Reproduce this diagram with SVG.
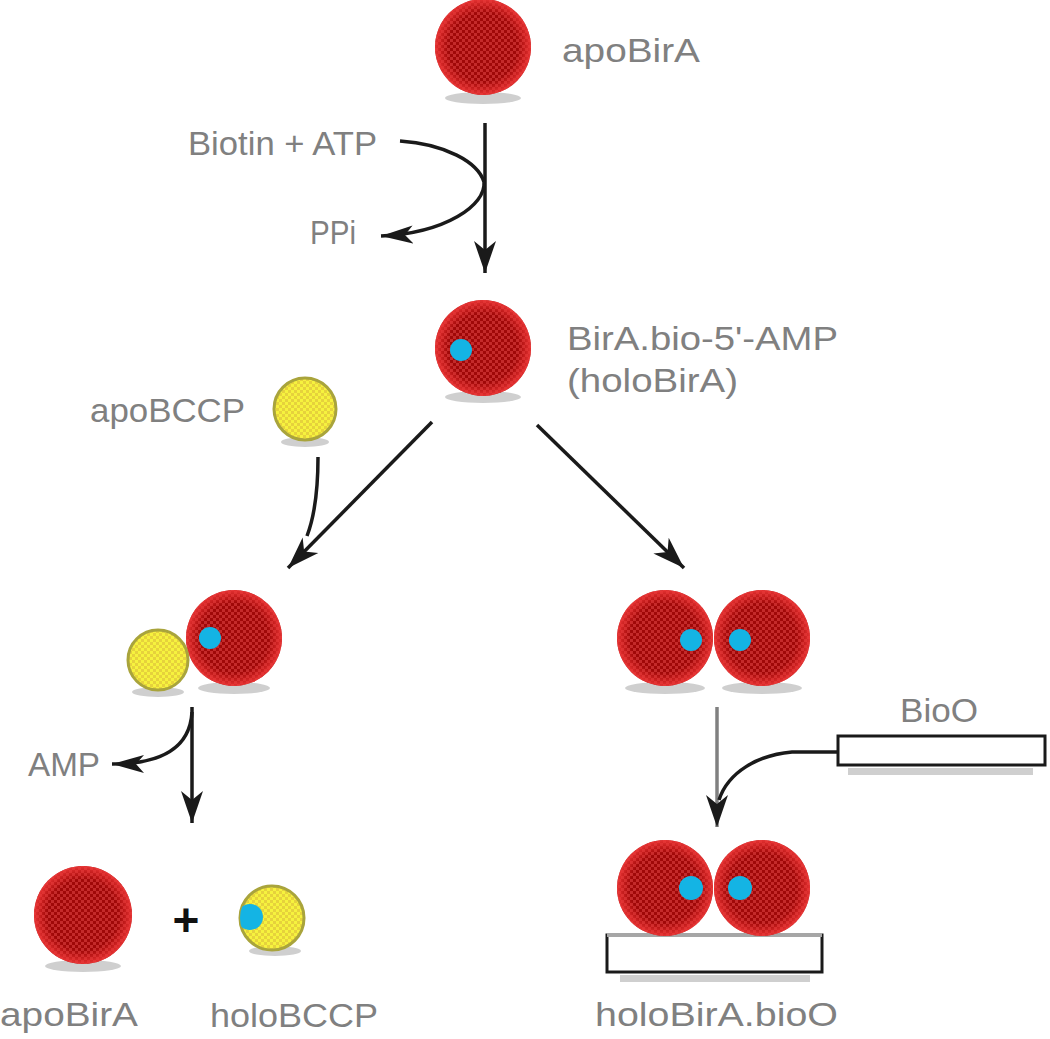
<svg xmlns="http://www.w3.org/2000/svg" width="1050" height="1039" viewBox="0 0 1050 1039">
<style>
.lbl{font-family:"Liberation Sans",Arial,sans-serif;font-size:34px;fill:#808080}
.red{fill:url(#redTex)}
.rim{fill:url(#rimGrad)}
.yel{fill:url(#yelTex);stroke:#a9a43c;stroke-width:3}
.blue{fill:#14b4e4}
.shadow{fill:#cfcfcf}
.conn{fill:none;stroke:#1a1a1a;stroke-width:3.5}
.bar{fill:#fff;stroke:#1a1a1a;stroke-width:3}
</style>
<defs>
<pattern id="redTex" width="6" height="6" patternUnits="userSpaceOnUse">
<rect width="6" height="6" fill="#c42a2a"/>
<rect width="3" height="3" fill="#a00808"/>
<rect x="3" y="3" width="3" height="3" fill="#a00808"/>
</pattern>
<radialGradient id="rimGrad" cx="0.5" cy="0.5" r="0.5">
<stop offset="0.72" stop-color="#ee3030" stop-opacity="0"/>
<stop offset="1" stop-color="#f03a3a" stop-opacity="0.85"/>
</radialGradient>
<pattern id="yelTex" width="6" height="6" patternUnits="userSpaceOnUse">
<rect width="6" height="6" fill="#f6f23e"/>
<rect width="3" height="3" fill="#e6d23c"/>
<rect x="3" y="3" width="3" height="3" fill="#e6d23c"/>
</pattern>
<marker id="arr" markerUnits="userSpaceOnUse" markerWidth="34" markerHeight="28" refX="32" refY="14" orient="auto">
<path d="M0,3 L32,14 L0,25 L9,14 z" fill="#1a1a1a"/>
</marker>
<marker id="arrS" markerUnits="userSpaceOnUse" markerWidth="34" markerHeight="22" refX="32" refY="11" orient="auto">
<path d="M0,2 L32,11 L0,20 L8,11 z" fill="#1a1a1a"/>
</marker>
<clipPath id="hbClip"><circle cx="272" cy="918" r="32"/></clipPath>
</defs>

<g id="connectors">
<line class="conn" x1="485" y1="123" x2="485" y2="273" marker-end="url(#arr)"/>
<path class="conn" d="M400,141 C445,144 478,162 484,182 C486,205 446,233 381,236" marker-end="url(#arrS)"/>
<line class="conn" x1="432" y1="422" x2="288" y2="568" marker-end="url(#arr)"/>
<line class="conn" x1="537" y1="425" x2="684" y2="568" marker-end="url(#arr)"/>
<path class="conn" d="M318,457 C318,492 315,515 307,536"/>
<line class="conn" x1="192" y1="707" x2="192" y2="823" marker-end="url(#arr)"/>
<path class="conn" d="M192,712 C190,748 162,764 112,764" marker-end="url(#arrS)"/>
<line class="conn" x1="717" y1="707" x2="717" y2="827" style="stroke:#808080" marker-end="url(#arr)"/>
<path class="conn" d="M838,752 L792,752 C758,755 728,772 719,800"/>
</g>

<g id="apoBirA-top">
<ellipse class="shadow" cx="483" cy="98" rx="38" ry="6"/>
<circle class="red" cx="483" cy="47" r="48"/>
<circle class="rim" cx="483" cy="47" r="48"/>
<text class="lbl" x="562" y="62" textLength="138" lengthAdjust="spacingAndGlyphs">apoBirA</text>
</g>

<g id="biotin-atp"><text class="lbl" x="188" y="155" textLength="189" lengthAdjust="spacingAndGlyphs">Biotin + ATP</text></g>
<g id="ppi"><text class="lbl" x="310" y="244" textLength="46" lengthAdjust="spacingAndGlyphs">PPi</text></g>

<g id="holoBirA">
<ellipse class="shadow" cx="483" cy="397" rx="38" ry="6"/>
<circle class="red" cx="483" cy="348" r="48"/>
<circle class="rim" cx="483" cy="348" r="48"/>
<circle class="blue" cx="461" cy="350" r="11"/>
<text class="lbl" x="567" y="350" textLength="271" lengthAdjust="spacingAndGlyphs">BirA.bio-5'-AMP</text>
<text class="lbl" x="567" y="392" textLength="171" lengthAdjust="spacingAndGlyphs">(holoBirA)</text>
</g>

<g id="apoBCCP">
<ellipse class="shadow" cx="305" cy="442" rx="24" ry="5"/>
<circle class="yel" cx="305" cy="409" r="31"/>
<text class="lbl" x="90" y="422" textLength="155" lengthAdjust="spacingAndGlyphs">apoBCCP</text>
</g>

<g id="complex-bccp">
<ellipse class="shadow" cx="158" cy="692" rx="26" ry="5"/>
<ellipse class="shadow" cx="234" cy="688" rx="36" ry="6"/>
<circle class="red" cx="234" cy="638" r="48"/>
<circle class="rim" cx="234" cy="638" r="48"/>
<circle class="blue" cx="210" cy="638" r="11"/>
<circle class="yel" cx="158" cy="660" r="30"/>
</g>

<g id="dimer">
<ellipse class="shadow" cx="665" cy="688" rx="40" ry="6"/>
<ellipse class="shadow" cx="762" cy="688" rx="40" ry="6"/>
<circle class="red" cx="665" cy="638" r="48"/>
<circle class="rim" cx="665" cy="638" r="48"/>
<circle class="red" cx="762" cy="638" r="48"/>
<circle class="rim" cx="762" cy="638" r="48"/>
<circle class="blue" cx="691" cy="640" r="11"/>
<circle class="blue" cx="740" cy="640" r="11"/>
</g>

<g id="amp"><text class="lbl" x="28" y="776" textLength="72" lengthAdjust="spacingAndGlyphs">AMP</text></g>

<g id="bioO">
<rect class="shadow" x="848" y="768" width="185" height="7"/>
<rect class="bar" x="838" y="736" width="207" height="29"/>
<text class="lbl" x="900" y="722" textLength="78" lengthAdjust="spacingAndGlyphs">BioO</text>
</g>

<g id="apoBirA-bottom">
<ellipse class="shadow" cx="83" cy="966" rx="38" ry="6"/>
<circle class="red" cx="83" cy="915" r="49"/>
<circle class="rim" cx="83" cy="915" r="49"/>
<text class="lbl" x="0" y="1026" textLength="138" lengthAdjust="spacingAndGlyphs">apoBirA</text>
</g>

<g id="plus"><text x="186" y="936" text-anchor="middle" style="font-family:'Liberation Sans',Arial,sans-serif;font-size:46px;font-weight:bold;fill:#111">+</text></g>

<g id="holoBCCP">
<ellipse class="shadow" cx="275" cy="951" rx="26" ry="5"/>
<circle class="yel" cx="272" cy="918" r="32"/>
<circle class="blue" cx="250" cy="917" r="13" clip-path="url(#hbClip)"/>
<text class="lbl" x="210" y="1027" textLength="168" lengthAdjust="spacingAndGlyphs">holoBCCP</text>
</g>

<g id="holoBirA-bioO">
<rect class="shadow" x="620" y="975" width="190" height="7"/>
<rect class="bar" x="607" y="935" width="215" height="37"/>
<line x1="607" y1="935" x2="822" y2="935" stroke="#a6a6a6" stroke-width="4"/>
<circle class="red" cx="665" cy="888" r="48"/>
<circle class="rim" cx="665" cy="888" r="48"/>
<circle class="red" cx="762" cy="888" r="48"/>
<circle class="rim" cx="762" cy="888" r="48"/>
<circle class="blue" cx="691" cy="888" r="12"/>
<circle class="blue" cx="740" cy="888" r="12"/>
<text class="lbl" x="595" y="1026" textLength="243" lengthAdjust="spacingAndGlyphs">holoBirA.bioO</text>
</g>
</svg>
